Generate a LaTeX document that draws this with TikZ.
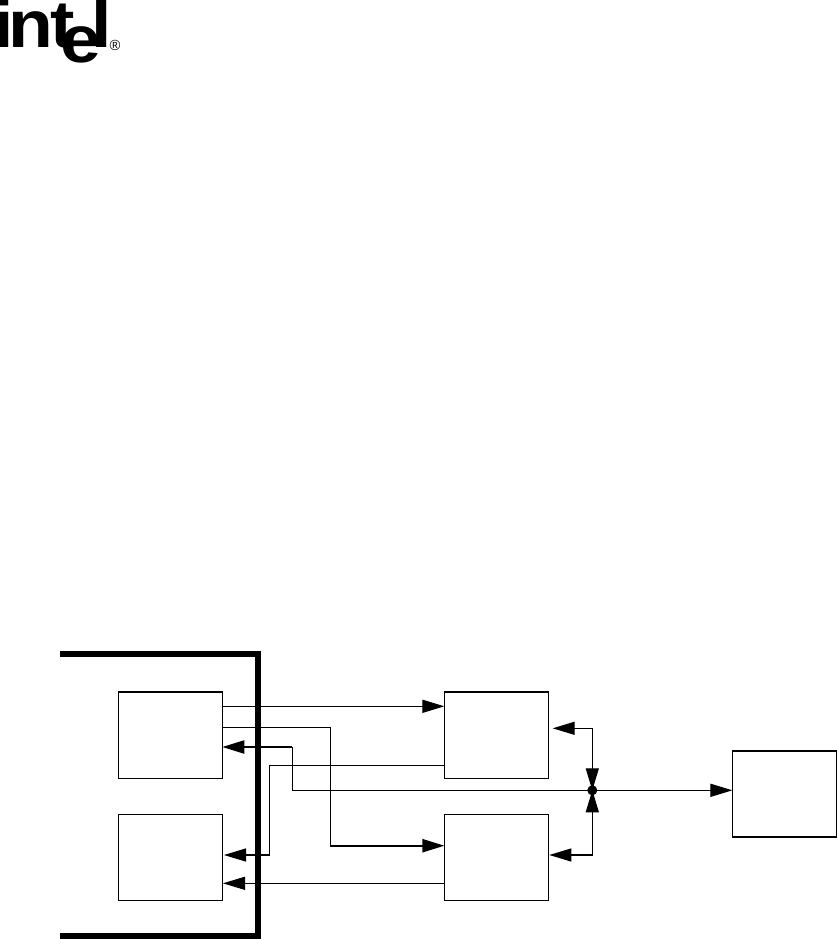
\documentclass[tikz,border=0pt]{standalone}
\usepackage{fontspec}
\setmainfont{Liberation Sans}
\usetikzlibrary{positioning,arrows.meta,calc}
\tikzset{
  wire/.style={-{Triangle[length=16.5pt, width=9.8pt]}, line width=0.8pt},
  twotips/.style={{Triangle[length=16.5pt, width=9.8pt]}-{Triangle[length=16.5pt, width=9.8pt]}, line width=0.8pt},
  heavywire/.style={-{Triangle[length=16.5pt, width=9.8pt]}, line width=1.5pt},
  plainwire/.style={line width=0.8pt},
  chipbox/.style={draw, line width=0.8pt, inner sep=0pt, minimum width=78pt, minimum height=64.5pt},
  topedge/.style={line width=1.6pt},
  frameline/.style={line width=4.5pt},
  dotnode/.style={circle, fill=black, inner sep=0pt, minimum size=7.5pt},
  logotext/.style={inner sep=0pt, anchor=base west, xscale=1.1, font=\bfseries\fontsize{50}{50}\selectfont}
}
\begin{document}
\begin{tikzpicture}[x=0.75pt, y=-0.75pt]
  \useasboundingbox (0,0) rectangle (837,939);
  % logo
  \node[logotext] (logoint) at (-7,47) {i\kern-3.8pt n\kern-1.5pt t};
  \node[logotext] (logoe) at (60,62) {e};
  \node[logotext] (logol) at (91,47) {l};
  \node[inner sep=0pt, font=\fontsize{11}{11}\selectfont] (logoreg) at (115,45) {®};
  % outer frame
  \coordinate (frametop) at (60,654);
  \coordinate (framebot) at (60,936);
  \draw[frameline] (frametop) -| (258,936) -- (framebot);
  % boxes
  \node[chipbox] (hosta) at (170.3,735.7) {};
  \node[chipbox] (hostb) at (170.3,857.3) {};
  \node[chipbox] (rama) at (496.4,735.7) {};
  \node[chipbox] (ramb) at (496.4,857.3) {};
  \node[chipbox] (flash) at (784.3,794) {};
  \draw[topedge] (hosta.north west) -- (hosta.north east);
  \draw[topedge] (rama.north west) -- (rama.north east);
  % pins
  \coordinate (hostaout) at (222.3,706.3);
  \coordinate (ramain) at (444.4,706.3);
  \coordinate (hostaclk) at (222.3,727.5);
  \coordinate (rambin) at (444.4,845.7);
  \coordinate (hostain) at (222.3,747);
  \coordinate (ramaout) at (444.4,765.3);
  \coordinate (hostbup) at (224,855);
  \coordinate (hostblow) at (223,883.3);
  \coordinate (ramblow) at (444.4,883.3);
  \coordinate (ramaside) at (552.7,728.3);
  \coordinate (rambside) at (549.3,855);
  \coordinate (flashin) at (732.4,790.3);
  \coordinate (busbend) at (292.3,790.3);
  \coordinate (clkbend) at (330.3,845.7);
  \coordinate (inbend) at (292.3,747);
  \node[dotnode] (junc) at (592.3,790.3) {};
  % connectors
  \draw[wire] (hostaout) -- (ramain);
  \draw[plainwire] (hostaclk) -| (clkbend);
  \draw[heavywire] (clkbend) -- (rambin);
  \draw[plainwire] (junc.center) -- (busbend) -- (inbend);
  \draw[heavywire] (inbend) -- (hostain);
  \draw[wire] (ramaout) -| (269.3,855) -- (hostbup);
  \draw[wire] (ramblow) -- (hostblow);
  \draw[wire] (junc.center) -- (flashin);
  \draw[twotips] (ramaside) -| (junc.center);
  \draw[twotips] (rambside) -| (junc.center);
\end{tikzpicture}
\end{document}
